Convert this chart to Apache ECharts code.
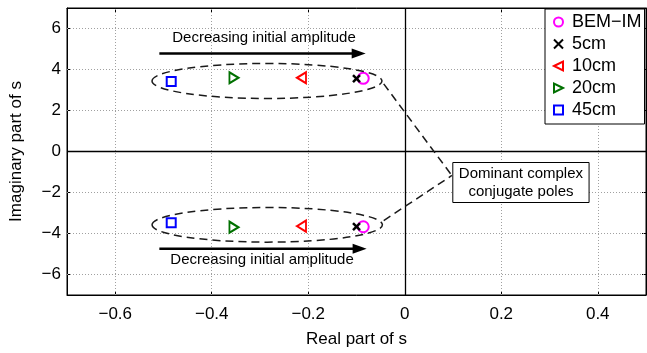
<!DOCTYPE html>
<html>
<head>
<meta charset="utf-8">
<script src="https://cdn.jsdelivr.net/npm/echarts@6/dist/echarts.min.js"></script>
<style>
html,body{margin:0;padding:0;background:#fff;}
#main{width:647px;height:353px;}
</style>
</head>
<body>
<div id="main"></div>
<script>
// ---- data ----
var seriesNames = ['BEM\u2212IM', '5cm', '10cm', '20cm', '45cm'];
var realPart = [-0.086, -0.100, -0.214, -0.354, -0.484];
var imagUpper = [3.57, 3.55, 3.60, 3.60, 3.41];
var imagLower = [-3.67, -3.67, -3.64, -3.69, -3.48];
var xTicks = [-0.6, -0.4, -0.2, 0, 0.2, 0.4];
var yTicks = [-6, -4, -2, 0, 2, 4, 6];

var FONT = '"Liberation Sans", Arial, Helvetica, sans-serif';
var colors = ['#ff00ff', '#000000', '#ff0000', '#007000', '#0000ff'];
var symbols = [
  'circle',
  'path://M0,0L10,10M10,0L0,10',
  'path://M0,5L10,0L10,10Z',
  'path://M10,5L0,0L0,10Z',
  'rect'
];
var sizes = [11, 7, [9, 11], [9, 11], 9];
var borderW = [2, 2.5, 2, 2, 2];

function fmt(v) {
  if (v === 0) return '0';
  return (v < 0 ? '\u2212' : '') + String(Math.abs(v));
}

var series = seriesNames.map(function (name, i) {
  return {
    name: name,
    type: 'scatter',
    symbol: symbols[i],
    symbolSize: sizes[i],
    itemStyle: { color: 'rgba(0,0,0,0)', borderColor: colors[i], borderWidth: borderW[i], opacity: 1 },
    data: [[realPart[i], imagUpper[i]], [realPart[i], imagLower[i]]],
    z: 5,
    silent: true
  };
});
// dotted grid lines at tick values
var gridData = xTicks.filter(function (v) { return v !== 0; }).map(function (v) { return { xAxis: v }; })
  .concat(yTicks.filter(function (v) { return v !== 0; }).map(function (v) { return { yAxis: v }; }));
series.push({
  type: 'scatter', data: [], silent: true, z: 1,
  markLine: {
    silent: true, symbol: 'none', animation: false, z: 1,
    label: { show: false },
    lineStyle: { color: '#a0a0a0', width: 1, type: [1, 2] },
    data: gridData
  }
});
// zero lines
series.push({
  type: 'scatter', data: [], silent: true, z: 2,
  markLine: {
    silent: true, symbol: 'none', animation: false,
    label: { show: false },
    lineStyle: { color: '#000', width: 1.3, type: 'solid' },
    data: [{ xAxis: 0 }, { yAxis: 0 }]
  }
});

function xAxisDef(main) {
  return {
    type: 'value', min: -0.7, max: 0.5, position: main ? 'bottom' : 'top',
    name: main ? 'Real part of s' : '', nameLocation: 'middle', nameGap: 36,
    nameTextStyle: { fontFamily: FONT, fontSize: 17, color: '#000' },
    axisLine: { onZero: false, lineStyle: { color: '#000' } },
    axisTick: { show: true, inside: true, length: 4, customValues: xTicks, lineStyle: { color: '#000' } },
    axisLabel: {
      show: main, customValues: xTicks, fontFamily: FONT, fontSize: 17, color: '#000', margin: 11,
      formatter: function (v) { return fmt(Math.round(v * 10) / 10); }
    },
    splitLine: { show: false }
  };
}
function yAxisDef(main) {
  return {
    type: 'value', min: -7, max: 7, position: main ? 'left' : 'right',
    name: main ? 'Imaginary part of s' : '', nameLocation: 'middle', nameGap: 42,
    nameTextStyle: { fontFamily: FONT, fontSize: 17, color: '#000' },
    axisLine: { onZero: false, lineStyle: { color: '#000' } },
    axisTick: { show: true, inside: true, length: 4, customValues: yTicks, lineStyle: { color: '#000' } },
    axisLabel: {
      show: main, customValues: yTicks, fontFamily: FONT, fontSize: 17, color: '#000', margin: 6,
      formatter: function (v) { return fmt(v); }
    },
    splitLine: { show: false }
  };
}

var option = {
  animation: false,
  backgroundColor: '#fff',
  grid: { left: 67, right: 1, top: 8, bottom: 57, show: true, borderColor: '#000', borderWidth: 1, backgroundColor: 'transparent' },
  xAxis: [xAxisDef(true), xAxisDef(false)],
  yAxis: [yAxisDef(true), yAxisDef(false)],
  legend: {
    data: seriesNames,
    orient: 'vertical',
    left: 545, top: 9,
    padding: [4, 3, 5, 8],
    itemGap: 4,
    itemWidth: 9, itemHeight: 9,
    backgroundColor: '#fff',
    borderColor: '#000', borderWidth: 1,
    textStyle: { fontFamily: FONT, fontSize: 18, color: '#000', padding: [0, 0, 0, 4] },
    selectedMode: false
  },
  series: series
};

var chart = echarts.init(document.getElementById('main'), null, { renderer: 'canvas' });
chart.setOption(option);

// ---- annotations (data coordinates) ----
var ellipses = [
  { c: [-0.2855, 3.44], r: [0.2383, 0.854] },
  { c: [-0.285, -3.576], r: [0.2387, 0.845] }
];
var arrows = [
  { from: [-0.5086, 4.78], to: [-0.081, 4.78] },
  { from: [-0.5086, -4.746], to: [-0.079, -4.746] }
];
var arrowTexts = [
  { pos: [-0.2917, 5.56], text: 'Decreasing initial amplitude' },
  { pos: [-0.2958, -5.27], text: 'Decreasing initial amplitude' }
];
var connectors = [
  { from: [-0.0436, 3.30], to: [0.0976, -1.17] },
  { from: [-0.0436, -3.37], to: [0.0976, -1.17] }
];
var box = { tl: [0.0996, -0.537], br: [0.382, -2.488], lines: ['Dominant complex', 'conjugate poles'] };

function px(p) { return chart.convertToPixel({ xAxisIndex: 0, yAxisIndex: 0 }, p); }

var g = [];
ellipses.forEach(function (e) {
  var c = px(e.c);
  var e2 = px([e.c[0] + e.r[0], e.c[1] + e.r[1]]);
  g.push({ type: 'ellipse', z: 10, shape: { cx: c[0], cy: c[1], rx: Math.abs(e2[0] - c[0]), ry: Math.abs(e2[1] - c[1]) },
    style: { fill: 'none', stroke: '#1a1a1a', lineWidth: 1.5, lineDash: [8, 5] } });
});
arrows.forEach(function (a) {
  var p1 = px(a.from), p2 = px(a.to);
  g.push({ type: 'line', z: 10, shape: { x1: p1[0], y1: p1[1], x2: p2[0] - 10, y2: p2[1] }, style: { stroke: '#000', lineWidth: 2.6 } });
  g.push({ type: 'polygon', z: 10, shape: { points: [[p2[0], p2[1]], [p2[0] - 14, p2[1] - 5], [p2[0] - 14, p2[1] + 5]] }, style: { fill: '#000' } });
});
arrowTexts.forEach(function (t) {
  var p = px(t.pos);
  g.push({ type: 'text', z: 10, x: p[0], y: p[1], style: { text: t.text, fontFamily: FONT, fontSize: 15, fill: '#000', align: 'center', verticalAlign: 'middle' } });
});
connectors.forEach(function (c) {
  var p1 = px(c.from), p2 = px(c.to);
  g.push({ type: 'line', z: 10, shape: { x1: p1[0], y1: p1[1], x2: p2[0], y2: p2[1] }, style: { stroke: '#1a1a1a', lineWidth: 1.5, lineDash: [8, 5] } });
});
(function () {
  var a = px(box.tl), b = px(box.br);
  g.push({ type: 'rect', z: 11, shape: { x: a[0], y: a[1], width: b[0] - a[0], height: b[1] - a[1] }, style: { fill: '#fff', stroke: '#000', lineWidth: 1 } });
  var cx = (a[0] + b[0]) / 2, cy = (a[1] + b[1]) / 2;
  g.push({ type: 'text', z: 12, x: cx, y: cy - 9, style: { text: box.lines[0], fontFamily: FONT, fontSize: 15, fill: '#000', align: 'center', verticalAlign: 'middle' } });
  g.push({ type: 'text', z: 12, x: cx, y: cy + 9.5, style: { text: box.lines[1], fontFamily: FONT, fontSize: 15, fill: '#000', align: 'center', verticalAlign: 'middle' } });
})();
chart.setOption({ graphic: g });
</script>
</body>
</html>
